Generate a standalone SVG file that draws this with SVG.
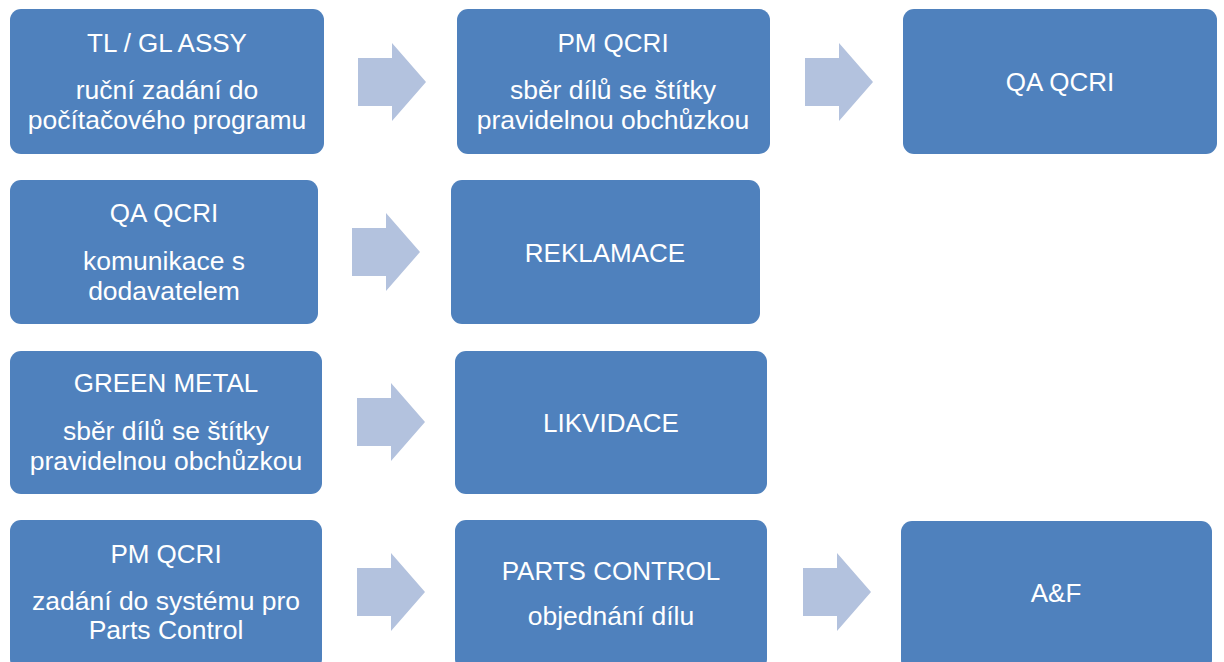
<svg xmlns="http://www.w3.org/2000/svg" width="1224" height="662" viewBox="0 0 1224 662">
  <defs>
    <!-- block arrow shape, origin at the shaft's left edge / vertical centre -->
    <polygon id="arrow" points="0,-24 34,-24 34,-39 68,0 34,39 34,24 0,24"/>
  </defs>
  <style>
    .box { fill: #4F81BD; }
    .arr { fill: #B3C2DE; }
    text { font-family: "Liberation Sans", Arial, sans-serif; fill: #FFFFFF; text-anchor: middle; }
    .t { font-size: 26px; }
    .s { font-size: 26.5px; }
  </style>
  <rect width="1224" height="662" fill="#FFFFFF"/>

  <g id="connectors">
    <use href="#arrow" class="arr" x="358" y="82"/>
    <use href="#arrow" class="arr" x="805" y="82"/>
    <use href="#arrow" class="arr" x="352" y="252"/>
    <use href="#arrow" class="arr" x="357" y="422"/>
    <use href="#arrow" class="arr" x="357" y="592"/>
    <use href="#arrow" class="arr" x="803" y="592"/>
  </g>

  <g id="tl-gl-assy">
    <rect class="box" x="10" y="9" width="314" height="145" rx="11"/>
    <text class="t" x="167" y="52">TL / GL ASSY</text>
    <text class="s" x="167" y="99">ruční zadání do</text>
    <text class="s" x="167" y="129">počítačového programu</text>
  </g>
  <g id="pm-qcri-1">
    <rect class="box" x="457" y="9" width="313" height="145" rx="11"/>
    <text class="t" x="613" y="52">PM QCRI</text>
    <text class="s" x="613" y="99">sběr dílů se štítky</text>
    <text class="s" x="613" y="129">pravidelnou obchůzkou</text>
  </g>
  <g id="qa-qcri-1">
    <rect class="box" x="903" y="9" width="314" height="145" rx="11"/>
    <text class="t" x="1060" y="91">QA QCRI</text>
  </g>

  <g id="qa-qcri-2">
    <rect class="box" x="10" y="180" width="308" height="144" rx="11"/>
    <text class="t" x="164" y="222">QA QCRI</text>
    <text class="s" x="164" y="270">komunikace s</text>
    <text class="s" x="164" y="300">dodavatelem</text>
  </g>
  <g id="reklamace">
    <rect class="box" x="451" y="180" width="309" height="144" rx="11"/>
    <text class="t" x="605" y="262">REKLAMACE</text>
  </g>

  <g id="green-metal">
    <rect class="box" x="10" y="351" width="312" height="143" rx="11"/>
    <text class="t" x="166" y="392">GREEN METAL</text>
    <text class="s" x="166" y="440">sběr dílů se štítky</text>
    <text class="s" x="166" y="470">pravidelnou obchůzkou</text>
  </g>
  <g id="likvidace">
    <rect class="box" x="455" y="351" width="312" height="143" rx="11"/>
    <text class="t" x="611" y="432">LIKVIDACE</text>
  </g>

  <g id="pm-qcri-2">
    <rect class="box" x="10" y="520" width="312" height="150" rx="11"/>
    <text class="t" x="166" y="563">PM QCRI</text>
    <text class="s" x="166" y="610">zadání do systému pro</text>
    <text class="s" x="166" y="639">Parts Control</text>
  </g>
  <g id="parts-control">
    <rect class="box" x="455" y="520" width="312" height="150" rx="11"/>
    <text class="t" x="611" y="580">PARTS CONTROL</text>
    <text class="s" x="611" y="625">objednání dílu</text>
  </g>
  <g id="a-and-f">
    <rect class="box" x="901" y="521" width="311" height="150" rx="11"/>
    <text class="t" x="1056" y="602">A&amp;F</text>
  </g>
</svg>
